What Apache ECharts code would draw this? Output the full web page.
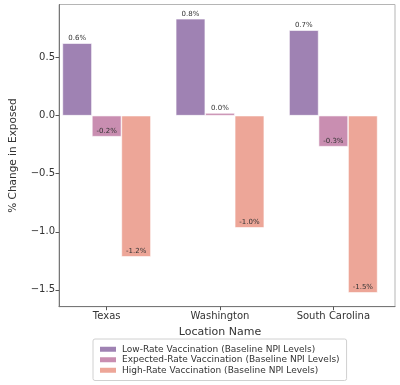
<!DOCTYPE html>
<html><head><meta charset="utf-8">
<script src="https://cdn.jsdelivr.net/npm/echarts@6/dist/echarts.min.js"></script>
<style>html,body{margin:0;padding:0;background:#fff}#c{width:400px;height:385px}</style>
</head><body><div id="c"></div>
<script>
const categories = ['Texas', 'Washington', 'South Carolina'];
const lowRate = [0.624, 0.834, 0.736];
const expectedRate = [-0.181, 0.023, -0.267];
const highRate = [-1.216, -0.966, -1.526];
const seriesNames = [
  'Low-Rate Vaccination (Baseline NPI Levels)',
  'Expected-Rate Vaccination (Baseline NPI Levels)',
  'High-Rate Vaccination (Baseline NPI Levels)'
];
const yTicks = [-1.5, -1.0, -0.5, 0.0, 0.5];
const yMin = -1.645, yMax = 0.957;

const colors = ['#9f82b3', '#c98eb1', '#eda698'];
const font = 'DejaVu Sans';

function fmtTick(v){ const s = Math.abs(v).toFixed(1); return v < 0 ? '\u2212' + s : s; }

function makeSeries(name, data, color){
  return {
    name, type: 'bar', xAxisIndex: 1, yAxisIndex: 1,
    barWidth: 29.5, barGap: '0%',
    itemStyle: { color, borderColor: '#ffffff', borderWidth: 0.6 },
    data: data.map(v => ({
      value: v,
      label: {
        show: true,
        position: v >= 0 ? 'top' : 'insideBottom',
        distance: v >= 0 ? 1 : 2,
        formatter: (v < 0 ? '-' : '') + Math.abs(v).toFixed(1) + '%',
        fontSize: 7, fontFamily: font, color: '#333'
      }
    }))
  };
}

const chart = echarts.init(document.getElementById('c'), null, {renderer: 'canvas'});
chart.setOption({
  animation: false,
  backgroundColor: '#fff',
  grid: [
    { left: 45, right: 5, top: 4.5, bottom: 78.3, show: true, borderColor: '#b5b5b5', borderWidth: 1, z: 0 },
    { left: 50, right: 10, top: 4.5, bottom: 78.3 }
  ],
  xAxis: [
    { gridIndex: 0, type: 'value', min: 0, max: 1,
      axisLine: {show: true, onZero: false, lineStyle: {color: '#777'}},
      axisTick: {show: false}, axisLabel: {show: false}, splitLine: {show: false} },
    { gridIndex: 1, type: 'category', data: categories,
      axisLine: {show: false, onZero: false},
      axisTick: {show: true, alignWithLabel: true, length: 3.5, lineStyle: {color: '#555'}},
      axisLabel: {fontSize: 10, fontFamily: font, color: '#333', margin: 5},
      name: 'Location Name', nameLocation: 'middle', nameGap: 18,
      nameTextStyle: {fontSize: 11, fontFamily: font, color: '#333'} }
  ],
  yAxis: [
    { gridIndex: 0, type: 'value', min: yMin, max: yMax,
      axisLine: {show: true, onZero: false, lineStyle: {color: '#777'}},
      axisTick: {show: true, length: 3.5, lineStyle: {color: '#555'}, customValues: yTicks},
      axisLabel: {fontSize: 10, fontFamily: font, color: '#333', margin: 4, customValues: yTicks, formatter: fmtTick},
      splitLine: {show: false},
      name: '% Change in Exposed', nameLocation: 'middle', nameGap: 40,
      nameTextStyle: {fontSize: 10.5, fontFamily: font, color: '#333'} },
    { gridIndex: 1, type: 'value', min: yMin, max: yMax, show: false, splitLine: {show: false} }
  ],
  legend: {
    left: 93, top: 339, orient: 'vertical',
    data: seriesNames,
    itemWidth: 18, itemHeight: 7, itemGap: 0,
    icon: 'rect',
    borderColor: '#d0d0d0', borderWidth: 1, borderRadius: 2,
    padding: [5, 7, 5, 5],
    textStyle: {fontSize: 9, fontFamily: font, color: '#333', lineHeight: 10.5}
  },
  series: [
    makeSeries(seriesNames[0], lowRate, colors[0]),
    makeSeries(seriesNames[1], expectedRate, colors[1]),
    makeSeries(seriesNames[2], highRate, colors[2])
  ]
});
</script></body></html>
